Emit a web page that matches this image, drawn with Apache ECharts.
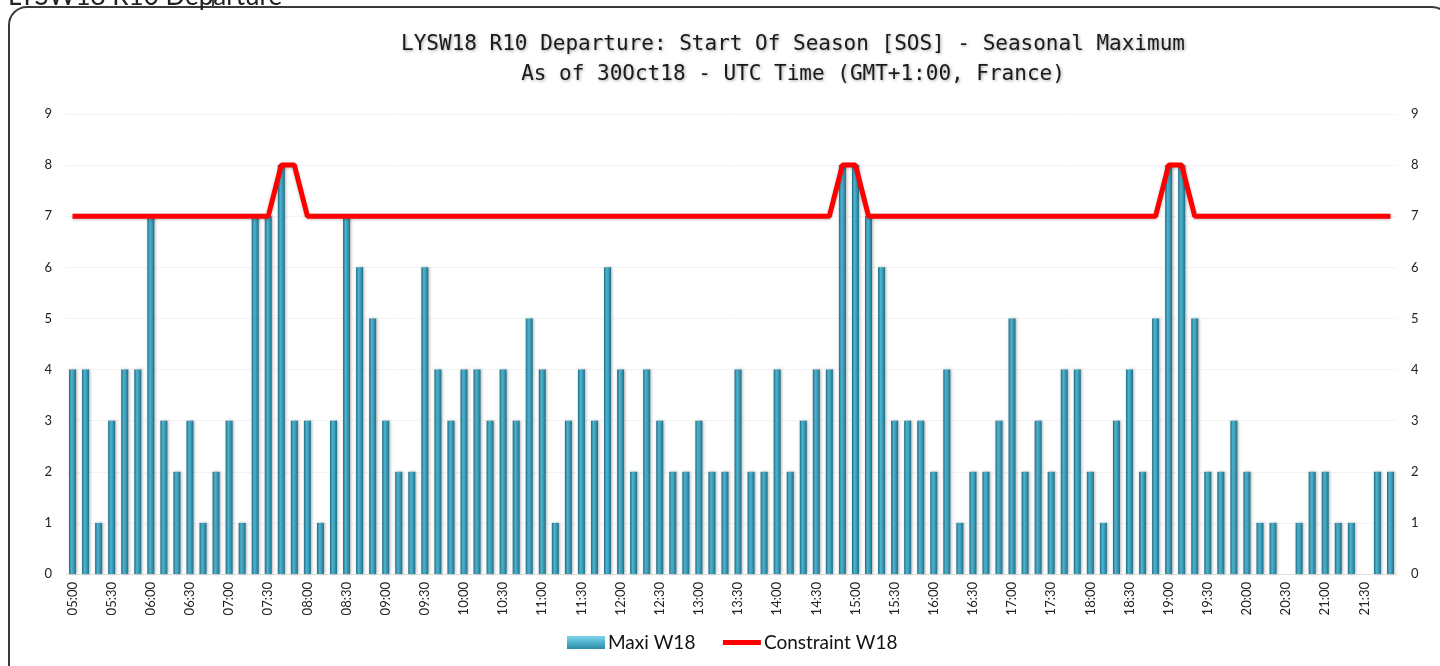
<!DOCTYPE html>
<html>
<head>
<meta charset="utf-8">
<title>LYSW18 R10 Departure</title>
<script src="https://cdn.jsdelivr.net/npm/echarts@6/dist/echarts.min.js"></script>
<style>
html, body { margin: 0; padding: 0; background: #fff; }
#chart { width: 1440px; height: 666px; }
</style>
</head>
<body>
<div id="chart"></div>
<script>
// 10-minute slots, 05:00 .. 21:50
var times = [
	'05:00', '05:10', '05:20', '05:30', '05:40', '05:50',
	'06:00', '06:10', '06:20', '06:30', '06:40', '06:50',
	'07:00', '07:10', '07:20', '07:30', '07:40', '07:50',
	'08:00', '08:10', '08:20', '08:30', '08:40', '08:50',
	'09:00', '09:10', '09:20', '09:30', '09:40', '09:50',
	'10:00', '10:10', '10:20', '10:30', '10:40', '10:50',
	'11:00', '11:10', '11:20', '11:30', '11:40', '11:50',
	'12:00', '12:10', '12:20', '12:30', '12:40', '12:50',
	'13:00', '13:10', '13:20', '13:30', '13:40', '13:50',
	'14:00', '14:10', '14:20', '14:30', '14:40', '14:50',
	'15:00', '15:10', '15:20', '15:30', '15:40', '15:50',
	'16:00', '16:10', '16:20', '16:30', '16:40', '16:50',
	'17:00', '17:10', '17:20', '17:30', '17:40', '17:50',
	'18:00', '18:10', '18:20', '18:30', '18:40', '18:50',
	'19:00', '19:10', '19:20', '19:30', '19:40', '19:50',
	'20:00', '20:10', '20:20', '20:30', '20:40', '20:50',
	'21:00', '21:10', '21:20', '21:30', '21:40', '21:50'
]

var maxiW18 = [
	4, 4, 1, 3, 4, 4,
	7, 3, 2, 3, 1, 2,
	3, 1, 7, 7, 8, 3,
	3, 1, 3, 7, 6, 5,
	3, 2, 2, 6, 4, 3,
	4, 4, 3, 4, 3, 5,
	4, 1, 3, 4, 3, 6,
	4, 2, 4, 3, 2, 2,
	3, 2, 2, 4, 2, 2,
	4, 2, 3, 4, 4, 8,
	8, 7, 6, 3, 3, 3,
	2, 4, 1, 2, 2, 3,
	5, 2, 3, 2, 4, 4,
	2, 1, 3, 4, 2, 5,
	8, 8, 5, 2, 2, 3,
	2, 1, 1, 0, 1, 2,
	2, 1, 1, 0, 2, 2
]

var constraintW18 = [
	7, 7, 7, 7, 7, 7,
	7, 7, 7, 7, 7, 7,
	7, 7, 7, 7, 8, 8,
	7, 7, 7, 7, 7, 7,
	7, 7, 7, 7, 7, 7,
	7, 7, 7, 7, 7, 7,
	7, 7, 7, 7, 7, 7,
	7, 7, 7, 7, 7, 7,
	7, 7, 7, 7, 7, 7,
	7, 7, 7, 7, 7, 8,
	8, 7, 7, 7, 7, 7,
	7, 7, 7, 7, 7, 7,
	7, 7, 7, 7, 7, 7,
	7, 7, 7, 7, 7, 7,
	8, 8, 7, 7, 7, 7,
	7, 7, 7, 7, 7, 7,
	7, 7, 7, 7, 7, 7
]

var titleLines = [
	'LYSW18 R10 Departure: Start Of Season [SOS] - Seasonal Maximum',
	'As of 30Oct18 - UTC Time (GMT+1:00, France)'
]
var sheetName = 'LYSW18 R10 Departure'

var font = 'Lato'
var barColor = new echarts.graphic.LinearGradient(0, 0, 1, 0, [
	{ offset: 0, color: '#1d6a82' },
	{ offset: 0.35, color: '#4fb2cc' },
	{ offset: 0.6, color: '#3fa0bb' },
	{ offset: 1, color: '#1f6f87' }
])
var legendBarColor = new echarts.graphic.LinearGradient(0, 0, 0, 1, [
	{ offset: 0, color: '#7fd3e8' },
	{ offset: 0.5, color: '#4fb2cc' },
	{ offset: 1, color: '#2f8aa5' }
])

var myChart = echarts.init(document.getElementById('chart'), null, { renderer: 'canvas' })
myChart.setOption({
	animation: false,
	textStyle: { fontFamily: font },
	title: {
		text: titleLines.join('\n'),
		left: 793,
		top: 30,
		padding: 0,
		textAlign: 'center',
		textStyle: {
			fontFamily: 'DejaVu Sans Mono',
			fontSize: 21,
			fontWeight: 'normal',
			lineHeight: 30,
			color: '#1a1a1a',
			textShadowColor: 'rgba(0,0,0,0.35)',
			textShadowBlur: 3,
			textShadowOffsetX: 1,
			textShadowOffsetY: 1
		}
	},
	graphic: [
		{
			type: 'text',
			left: 8,
			top: -16,
			style: { text: sheetName, font: '26px Lato', fill: '#222' }
		},
		{
			type: 'line',
			shape: { x1: 213, y1: 0, x2: 213, y2: 7 },
			style: { stroke: '#444', lineWidth: 2 },
			z: 10
		},
		{
			type: 'rect',
			shape: { x: 9, y: 7, width: 1441, height: 700, r: 18 },
			style: { fill: 'none', stroke: '#3a3a3a', lineWidth: 2 },
			z: -1
		}
	],
	legend: {
		bottom: 14,
		left: 567,
		itemWidth: 38,
		itemHeight: 13,
		itemGap: 25,
		padding: 0,
		textStyle: { fontFamily: font, fontSize: 19, color: '#111', padding: [0, 0, 0, -2] },
		data: [
			{ name: 'Maxi W18', icon: 'rect', itemStyle: { color: legendBarColor } },
			{
				name: 'Constraint W18',
				itemStyle: { color: 'rgba(0,0,0,0)', opacity: 0 },
				lineStyle: { color: '#ff0000', width: 5 }
			}
		]
	},
	grid: {
		left: 66,
		right: 43,
		top: 114,
		bottom: 92
	},
	xAxis: {
		type: 'category',
		data: times,
		axisLine: { lineStyle: { color: '#e0e0e0' } },
		axisTick: { show: false },
		axisLabel: {
			interval: 2,
			rotate: 90,
			fontSize: 13,
			color: '#222',
			margin: 8
		}
	},
	yAxis: [
		{
			type: 'value',
			min: 0,
			max: 9,
			interval: 1,
			axisLine: { show: false },
			axisTick: { show: false },
			splitLine: { lineStyle: { color: '#f3f3f3' } },
			axisLabel: { fontSize: 13, color: '#222', margin: 14 }
		},
		{
			type: 'value',
			min: 0,
			max: 9,
			interval: 1,
			position: 'right',
			axisLine: { show: false },
			axisTick: { show: false },
			splitLine: { show: false },
			axisLabel: { fontSize: 13, color: '#222', margin: 14 }
		}
	],
	series: [
		{
			name: 'Maxi W18',
			type: 'bar',
			data: maxiW18,
			barWidth: 7,
			itemStyle: {
				color: barColor,
				shadowColor: 'rgba(0,0,0,0.3)',
				shadowBlur: 3,
				shadowOffsetX: 1,
				shadowOffsetY: 0
			}
		},
		{
			name: 'Constraint W18',
			type: 'line',
			data: constraintW18,
			symbol: 'none',
			lineStyle: {
				color: '#ff0000',
				width: 5,
				shadowColor: 'rgba(0,0,0,0.25)',
				shadowBlur: 3,
				shadowOffsetY: 1
			},
			itemStyle: { color: '#ff0000' },
			z: 3
		}
	]
})
</script>
</body>
</html>
